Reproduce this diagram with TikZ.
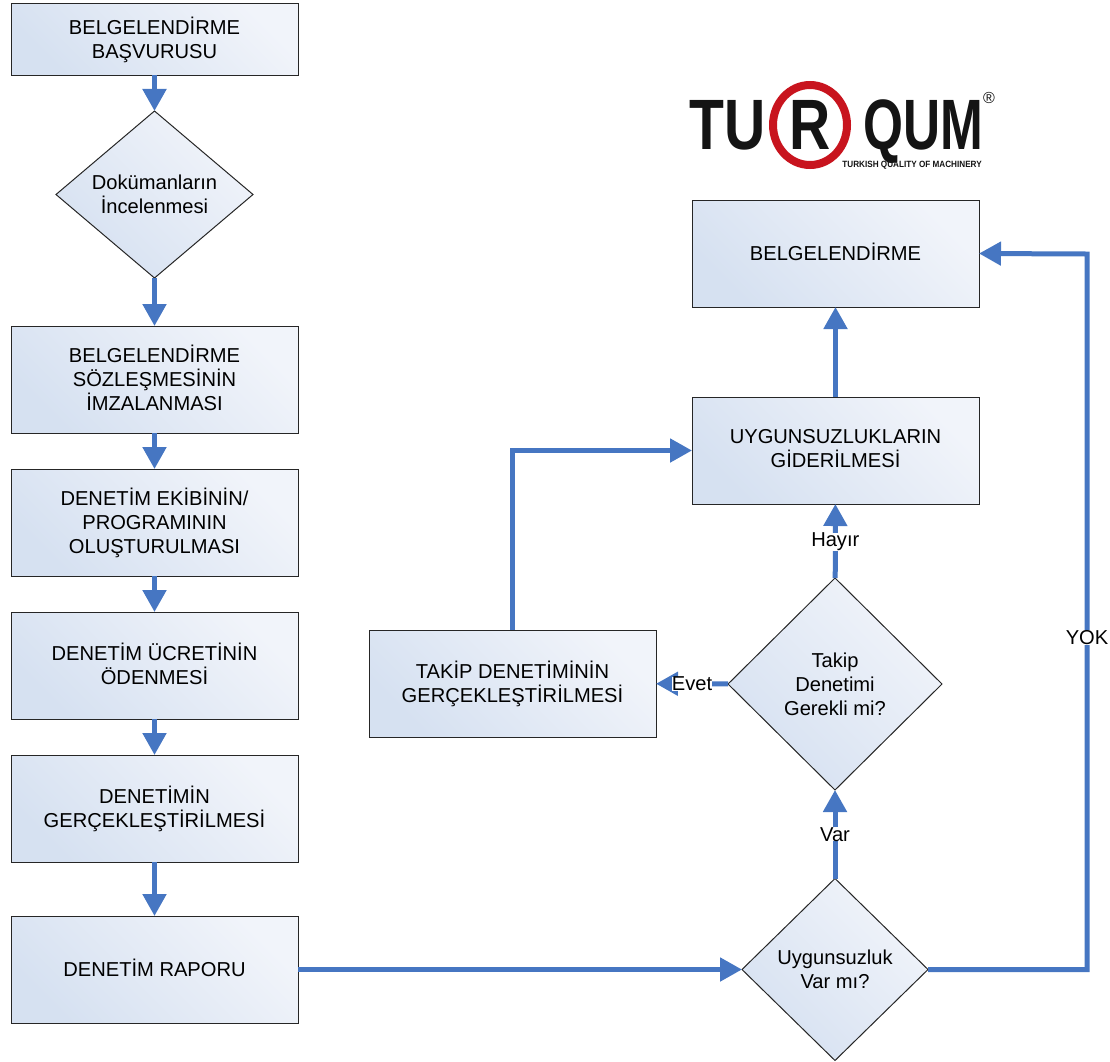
\documentclass[tikz,border=0pt]{standalone}
\usepackage{fontspec}
\setmainfont{Liberation Sans}
\usetikzlibrary{arrows.meta,shapes.geometric}
\definecolor{flowblue}{HTML}{4676C2}
\definecolor{shadelow}{HTML}{D6E1F1}
\definecolor{shadehigh}{HTML}{F1F4FA}
\definecolor{logored}{HTML}{C8141E}
\definecolor{logoblack}{HTML}{141414}
\tikzset{
	shaded box/.style={draw=black!85, line width=.75pt, outer sep=0pt, inner sep=0pt, align=center, left color=shadelow, right color=shadehigh, shading angle=135, font=\fontsize{15.1}{18}\selectfont},
	stepbox/.style={shaded box, rectangle, minimum width=215.25pt, minimum height=80.25pt, text depth=2.5pt},
	startbox/.style={stepbox, minimum height=54pt},
	decide/.style={shaded box, diamond},
	flow/.style={draw=flowblue, line width=3.75pt, -{Triangle[length=16.5pt,width=17.25pt]}},
	lbl/.style={fill=white, inner sep=0pt, font=\fontsize{15.1}{18}\selectfont},
	logotext/.style={inner sep=0pt, text=logoblack, font=\bfseries\fontsize{53.5}{54}\selectfont}
}
\begin{document}
\begin{tikzpicture}[x=.75pt, y=-.75pt]
	\useasboundingbox (0,0) rectangle (1110,1061);
	% left column
	\node[startbox] (basvuru) at (154.5,39) {BELGELENDİRME\\BAŞVURUSU};
	\node[decide, minimum width=147.75pt, minimum height=125.25pt] (dokuman) at (154.5,194.5) {Dokümanların\\İncelenmesi};
	\node[stepbox] (sozlesme) at (154.5,379.5) {BELGELENDİRME\\SÖZLEŞMESİNİN\\İMZALANMASI};
	\node[stepbox] (ekip) at (154.5,522.5) {DENETİM EKİBİNİN/\\PROGRAMININ\\OLUŞTURULMASI};
	\node[stepbox] (ucret) at (154.5,665.5) {DENETİM ÜCRETİNİN\\ÖDENMESİ};
	\node[stepbox] (denetim) at (154.5,808.5) {DENETİMİN\\GERÇEKLEŞTİRİLMESİ};
	\node[stepbox] (rapor) at (154.5,969.5) {DENETİM RAPORU};
	% right column
	\node[stepbox] (belge) at (835.5,253.5) {BELGELENDİRME};
	\node[stepbox] (giderme) at (835.5,450.5) {UYGUNSUZLUKLARIN\\GİDERİLMESİ};
	\node[stepbox] (takip) at (512.5,683.5) {TAKİP DENETİMİNİN\\GERÇEKLEŞTİRİLMESİ};
	\node[decide, minimum width=160.5pt, minimum height=159pt] (gerekli) at (835,684) {Takip\\Denetimi\\Gerekli mi?};
	\node[decide, minimum width=139.5pt, minimum height=136.5pt] (uygun) at (835,969.5) {Uygunsuzluk\\Var mı?};
	\coordinate (yokcorner) at (1087,254);
	% logo
	\node[ellipse, draw=logored, line width=6pt, minimum width=55.5pt, minimum height=60pt, inner sep=0pt] (halka) at (810,125) {};
	\node[logotext, anchor=base east, xscale=.8] (logotu) at (766,149) {TU};
	\node[logotext, anchor=base, xscale=.8] (logor) at (810,149) {R};
	\node[logotext, anchor=base west, xscale=.72] (logoqum) at (863,149) {QUM};
	\node[inner sep=0pt, text=logoblack, font=\fontsize{12}{12}\selectfont] (logotm) at (989,98) {®};
	\node[inner sep=0pt, anchor=east, xscale=.9, text=logoblack, font=\bfseries\fontsize{6.8}{7}\selectfont] (logoalt) at (982,165) {TURKISH QUALITY OF MACHINERY};
	% connectors
	\path[flow] (basvuru) -- (dokuman);
	\path[flow] (dokuman) -- (sozlesme);
	\path[flow] (sozlesme) -- (ekip);
	\path[flow] (ekip) -- (ucret);
	\path[flow] (ucret) -- (denetim);
	\path[flow] (denetim) -- (rapor);
	\path[flow] (rapor) -- (uygun);
	\path[flow] (uygun) -- node[lbl] {Var} (gerekli);
	\path[flow] (gerekli) -- node[lbl, pos=.49] {Hayır} (giderme);
	\path[flow] (gerekli) -- node[lbl] {Evet} (takip);
	\path[flow] (giderme) -- (belge);
	\path[flow] (takip.north) |- (giderme.west);
	\path[flow] (uygun.east) -| node[lbl, pos=.732] {YOK} (yokcorner) -- (belge.east);
\end{tikzpicture}
\end{document}
